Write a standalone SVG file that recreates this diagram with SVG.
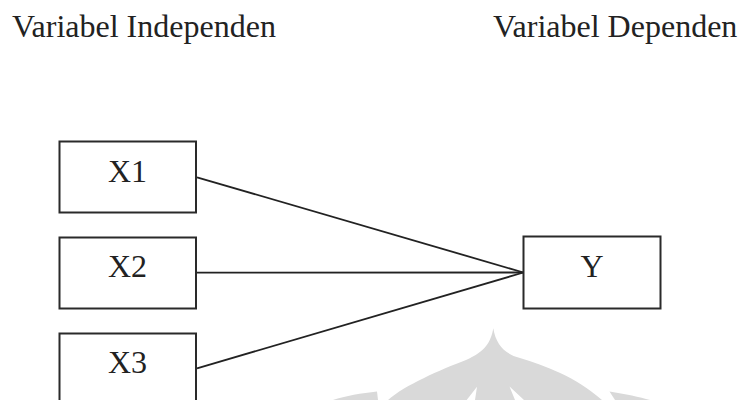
<svg xmlns="http://www.w3.org/2000/svg" width="741" height="400" viewBox="0 0 741 400">
<style>
text{font-family:"Liberation Serif","Times New Roman",serif;font-size:32px;fill:#222}
.box{fill:#fff;stroke:#2a2a2a;stroke-width:2}
.conn{stroke:#222;stroke-width:1.8;fill:none}
.wm{fill:#d9d9d9}
</style>
<rect width="741" height="400" fill="#fff"/>
<g id="watermark">
<path class="wm" d="M493.3,328.3 C496,345 505,354 520,358 C545,366 575,376 602,400 L524,400 L509.5,386.5 L515,400 L475,400 L477,386.7 L466.7,400 L388,400 C405,385 440,370 466,360 C485,352 491,342 493.3,328.3 Z"/>
<path class="wm" d="M333,400 C345,396 362,393 377,391.5 L378,400 Z"/>
<path class="wm" d="M609.5,391.5 C625,394 640,397 650,400 L615,400 Z"/>
</g>
<text x="12" y="37">Variabel Independen</text>
<text x="493" y="37">Variabel Dependen</text>
<g id="connectors">
<line class="conn" x1="197" y1="177.3" x2="523.5" y2="272.5"/>
<line class="conn" x1="197" y1="272.7" x2="523.5" y2="272.5"/>
<line class="conn" x1="197" y1="368.3" x2="523.5" y2="272.5"/>
</g>
<g id="X1">
<rect class="box" x="59.5" y="141.5" width="136.5" height="71"/>
<text x="127.5" y="182" text-anchor="middle">X1</text>
</g>
<g id="X2">
<rect class="box" x="59.5" y="237.5" width="136.5" height="71"/>
<text x="127.5" y="277" text-anchor="middle">X2</text>
</g>
<g id="X3">
<rect class="box" x="59.5" y="333.5" width="136.5" height="71"/>
<text x="127.5" y="373" text-anchor="middle">X3</text>
</g>
<g id="Y">
<rect class="box" x="523.5" y="236.5" width="137" height="72"/>
<text x="592" y="277" text-anchor="middle">Y</text>
</g>
</svg>
